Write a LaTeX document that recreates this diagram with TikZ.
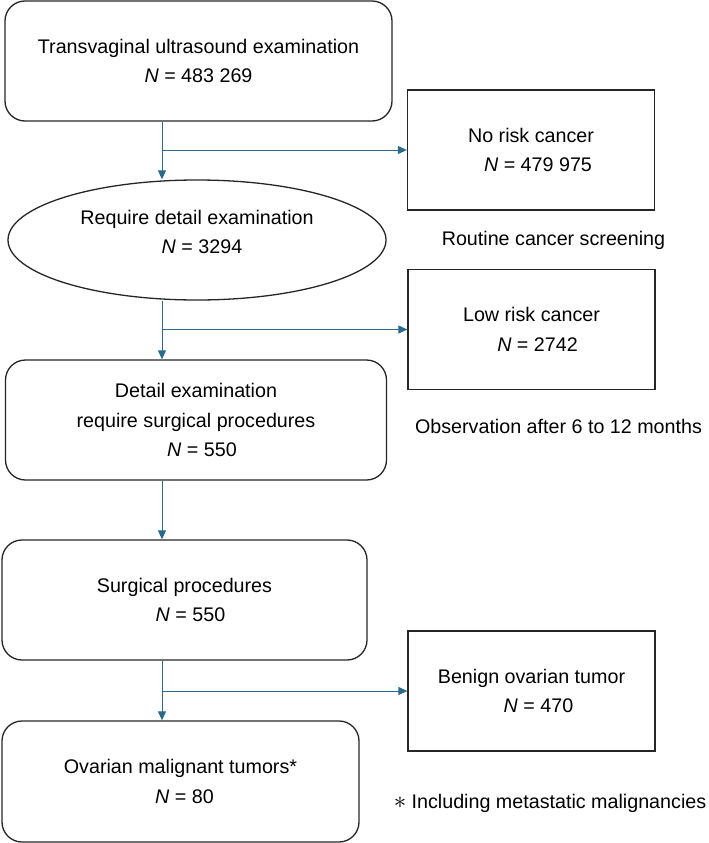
\documentclass[tikz,border=0pt]{standalone}
\usepackage{fontspec}
\setmainfont{Liberation Sans}
\usepackage{xcolor}
\usetikzlibrary{arrows.meta, shapes}

\definecolor{flowblue}{HTML}{2B6A8A}
\definecolor{boxline}{HTML}{262626}

\begin{document}
\begin{tikzpicture}[
  x=1pt, y=-1pt,
  txt/.style={font=\fontsize{19.7}{29.5}\selectfont, align=center},
  box/.style={txt, rectangle, draw=boxline, line width=1.3pt, inner sep=0pt,
              minimum height=120pt},
  rbox/.style={box, rounded corners=20pt},
  sbox/.style={box, minimum width=247pt},
  ebox/.style={txt, ellipse, draw=boxline, line width=1.3pt, inner sep=0pt,
               minimum width=378pt, minimum height=120pt},
  note/.style={txt},
  arr/.style={-{Triangle[length=9pt, width=8pt]}, flowblue, line width=1pt},
]
\useasboundingbox (0,0) rectangle (709,843);

%% ---- main column ----
\node[rbox, minimum width=387pt] (trans) at (198.5,61)
  {Transvaginal ultrasound examination\\\textit{N} = 483 269};
\node[ebox] (detail) at (197,240)
  {Require detail examination\\\hspace*{10pt}\textit{N} = 3294\\[-22pt]\strut};
\node[rbox, minimum width=381pt] (detsurg) at (196,420)
  {Detail examination\\require surgical procedures\\\hspace*{12pt}\textit{N} = 550};
\node[rbox, minimum width=365pt] (surg) at (184.5,600)
  {Surgical procedures\\\hspace*{12pt}\textit{N} = 550};
\node[rbox, minimum width=357pt, minimum height=121pt] (malig) at (180.5,781.5)
  {Ovarian malignant tumors*\\\hspace*{8pt}\textit{N} = 80};

%% ---- side boxes ----
\node[sbox] (norisk) at (531,150)
  {No risk cancer\\\hspace*{14pt}\textit{N} = 479 975};
\node[sbox] (lowrisk) at (531.5,329.5)
  {Low risk cancer\\\hspace*{12pt}\textit{N} = 2742};
\node[sbox] (benign) at (531.5,691)
  {Benign ovarian tumor\\\hspace*{14pt}\textit{N} = 470};

%% ---- notes ----
\node[note] (routine) at (553.5,240) {Routine cancer screening};
\node[note] (observ)  at (558.5,426) {Observation after 6 to 12 months};
\node[note] (incl)    at (550,803)
  {{\fontsize{30}{30}\selectfont$\ast$} Including metastatic malignancies};

%% ---- connectors ----
\coordinate (trunk) at (162,0);
\draw[arr] (trans.south -| trunk)   -- (detail.north -| trunk);
\draw[arr] (norisk.west -| trunk)   -- (norisk.west);
\draw[arr] (detail.south -| trunk)  -- (detsurg.north -| trunk);
\draw[arr] (lowrisk.west -| trunk)  -- (lowrisk.west);
\draw[arr] (detsurg.south -| trunk) -- (surg.north -| trunk);
\draw[arr] (surg.south -| trunk)    -- (malig.north -| trunk);
\draw[arr] (benign.west -| trunk)   -- (benign.west);

\end{tikzpicture}
\end{document}
